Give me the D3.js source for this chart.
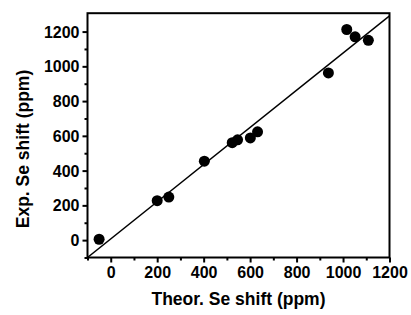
<!DOCTYPE html>
<html>
<head>
<meta charset="utf-8">
<script src="https://cdn.jsdelivr.net/npm/d3@7"></script>
<style>
  body { margin: 0; background: #fff; }
  svg text { font-family: "Liberation Sans", Arial, sans-serif; font-weight: bold; fill: #000; }
</style>
</head>
<body>
<svg id="chart"></svg>
<script>
// data
const theorShift = [-50, 200, 250, 403, 523, 546, 601, 632, 937, 1016, 1052, 1109];
const expShift   = [5, 227, 248, 454, 561, 577, 588, 623, 962, 1212, 1170, 1150];
// fitted line end points
const fitX = [-100, 1200];
const fitY = [-100, 1290];
const majorTicks = [0, 200, 400, 600, 800, 1000, 1200];
const minorTicksX = [-100, 100, 300, 500, 700, 900, 1100];
const minorTicksY = [-100, 100, 300, 500, 700, 900, 1100, 1300];

const W = 411, H = 315;
const svg = d3.select('#chart').attr('width', W).attr('height', H);

const x = d3.scaleLinear().domain([-100, 1200]).range([87.5, 389.5]);
const y = d3.scaleLinear().domain([-100, 1300]).range([257.5, 14.2]);

const points = theorShift.map((v, i) => ({ x: v, y: expShift[i] }));
const fit = fitX.map((v, i) => ({ x: v, y: fitY[i] }));

// fit line
svg.append('path')
  .datum(fit)
  .attr('fill', 'none')
  .attr('stroke', '#000')
  .attr('stroke-width', 1.5)
  .attr('d', d3.line().x(d => x(d.x)).y(d => y(d.y)));

// points
svg.selectAll('.dot')
  .data(points)
  .enter().append('circle')
  .attr('class', 'dot')
  .attr('cx', d => x(d.x))
  .attr('cy', d => y(d.y))
  .attr('r', 5.5)
  .attr('fill', '#000');

// axes
const xAxis = svg.append('g')
  .attr('transform', `translate(0, ${y(-100)})`)
  .call(d3.axisBottom(x).tickValues(majorTicks).tickSize(5).tickPadding(4).tickFormat(d3.format('d')));
svg.append('g')
  .attr('transform', `translate(0, ${y(-100)})`)
  .call(d3.axisBottom(x).tickValues(minorTicksX).tickSize(3).tickFormat(''));

const yAxis = svg.append('g')
  .attr('transform', `translate(${x(-100)}, 0)`)
  .call(d3.axisLeft(y).tickValues(majorTicks).tickSize(5).tickPadding(3).tickFormat(d3.format('d')));
svg.append('g')
  .attr('transform', `translate(${x(-100)}, 0)`)
  .call(d3.axisLeft(y).tickValues(minorTicksY.filter(v => v < 1300)).tickSize(3).tickFormat(''));

svg.selectAll('.domain').remove();
svg.selectAll('.tick line').attr('stroke', '#000').attr('stroke-width', 2);
xAxis.selectAll('text').style('font-size', '16px');
yAxis.selectAll('text').style('font-size', '16px').attr('dy', '0.35em');

// frame
svg.append('rect')
  .attr('x', x(-100))
  .attr('y', y(1300) - 1)
  .attr('width', x(1200) - x(-100))
  .attr('height', y(-100) - y(1300) + 1)
  .attr('fill', 'none')
  .attr('stroke', '#000')
  .attr('stroke-width', 2);

// axis titles
svg.append('text')
  .attr('x', (x(-100) + x(1200)) / 2)
  .attr('y', 305)
  .attr('text-anchor', 'middle')
  .style('font-size', '17.5px')
  .text('Theor. Se shift (ppm)');

svg.append('text')
  .attr('transform', `translate(29, 149) rotate(-90)`)
  .attr('text-anchor', 'middle')
  .style('font-size', '17.5px')
  .text('Exp. Se shift (ppm)');
</script>
</body>
</html>
